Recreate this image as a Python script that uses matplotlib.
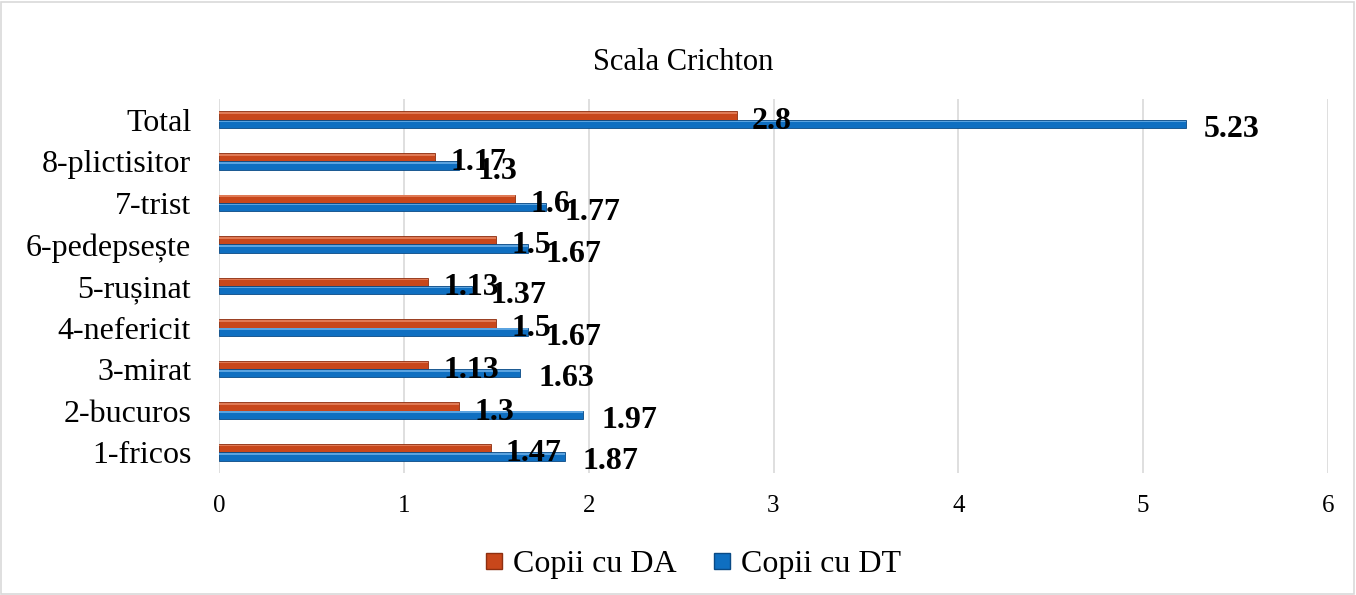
import matplotlib
matplotlib.use("Agg")
import matplotlib.pyplot as plt
from matplotlib.patches import Rectangle
from matplotlib.lines import Line2D
import numpy as np

categories = ["1-fricos", "2-bucuros", "3-mirat", "4-nefericit", "5-rușinat",
              "6-pedepsește", "7-trist", "8-plictisitor", "Total"]
da_values = [1.47, 1.3, 1.13, 1.5, 1.13, 1.5, 1.6, 1.17, 2.8]
dt_values = [1.87, 1.97, 1.63, 1.67, 1.37, 1.67, 1.77, 1.3, 5.23]
series_names = ["Copii cu DA", "Copii cu DT"]
xticks = [0, 1, 2, 3, 4, 5, 6]

plt.rcParams['font.family'] = ['Liberation Serif', 'DejaVu Serif']

W, H = 1356, 595
fig = plt.figure(figsize=(W / 100, H / 100), dpi=100)
ax = fig.add_axes([219 / W, 1 - 473 / H, (1328 - 219) / W, (473 - 99) / H])

red, red_dark, red_light = "#C8471B", "#8E2F10", "#E07A55"
blue, blue_dark, blue_light = "#0F6FC1", "#0A4A85", "#5AA3E0"

y = np.arange(len(categories))
h = 0.2
ax.barh(y + h / 2, da_values, height=h, color=red, edgecolor=red_dark, linewidth=0.6, zorder=3)
ax.barh(y - h / 2, dt_values, height=h, color=blue, edgecolor=blue_dark, linewidth=0.6, zorder=3)
# bevel highlight
ax.barh(y + h / 2 + h * 0.3, da_values, height=h * 0.2, color=red_light, linewidth=0, zorder=4)
ax.barh(y - h / 2 + h * 0.3, dt_values, height=h * 0.2, color=blue_light, linewidth=0, zorder=4)

ax.set_xlim(0, 6)
ax.set_ylim(-0.5, len(categories) - 0.5)
ax.set_xticks(xticks)
ax.set_xticklabels([str(t) for t in xticks], fontsize=18)
ax.set_yticks(y)
ax.set_yticklabels(categories, fontsize=23)
ax.tick_params(axis='both', length=0)
ax.tick_params(axis='x', pad=16)
ax.tick_params(axis='y', pad=20)
ax.grid(axis='x', color='#D9D9D9', linewidth=1.2, zorder=0)
for s in ax.spines.values():
    s.set_visible(False)

for yi, v in zip(y, da_values):
    ax.annotate(f"{v:g}", (v, yi + h / 2), xytext=(11, -4), textcoords='offset points',
                ha='left', va='center', fontsize=23, fontweight='bold', zorder=5)
for yi, v in zip(y, dt_values):
    ax.annotate(f"{v:g}", (v, yi - h / 2), xytext=(13, -4), textcoords='offset points',
                ha='left', va='center', fontsize=23, fontweight='bold', zorder=5)

fig.text(0.5 + 5 / W, 1 - 62 / H, "Scala Crichton", ha='center', va='center', fontsize=22)

handles = [Line2D([], [], marker='s', linestyle='none', markersize=12,
                  markerfacecolor=red, markeredgecolor=red_dark),
           Line2D([], [], marker='s', linestyle='none', markersize=12,
                  markerfacecolor=blue, markeredgecolor=blue_dark)]
fig.legend(handles, series_names, loc='center', bbox_to_anchor=(0.5 + 13 / W, 1 - 564 / H),
           ncol=2, frameon=False, fontsize=23, handletextpad=0.2, columnspacing=1.0,
           handlelength=0.8)

fig.patches.append(Rectangle((1 / W, 1 / H), 1 - 3 / W, 1 - 3 / H, transform=fig.transFigure,
                             fill=False, edgecolor='#D9D9D9', linewidth=1.2))

fig.savefig("out.png", dpi=100)
